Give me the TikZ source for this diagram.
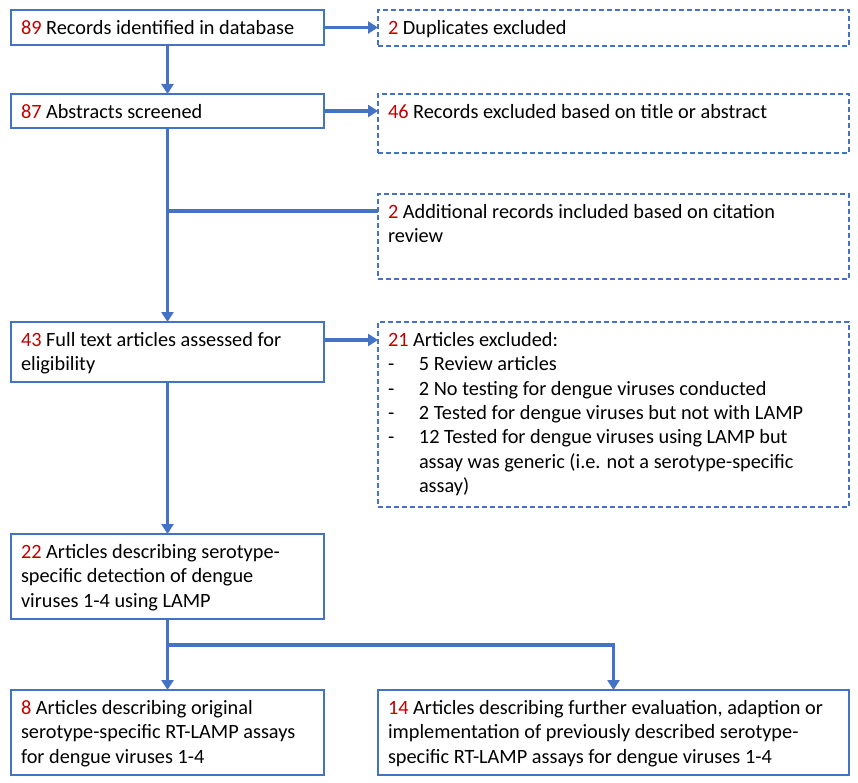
\documentclass[tikz,border=0pt]{standalone}
\usepackage{fontspec}
\setmainfont{Carlito}
\usetikzlibrary{arrows.meta,calc}
\definecolor{bl}{HTML}{4472C4}
\definecolor{rd}{HTML}{C00000}
\newcommand{\nm}[1]{\textcolor{rd}{#1}}
\newcommand{\bx}[3]{\parbox[c][#1pt][t]{#2pt}{\raggedright\rule{0pt}{24.3pt}#3}}
\newcommand{\dashitem}{\makebox[31pt][l]{-}}
\begin{document}
\begin{tikzpicture}[x=1pt,y=-1pt,
  every node/.style={font=\fontsize{20.3}{24.4}\selectfont},
  box/.style={draw=bl, line width=1.8pt, anchor=north west, inner xsep=10pt, inner ysep=0pt, outer sep=0pt},
  dbox/.style={box, line width=1.6pt, dash pattern=on 5pt off 3pt},
  arr/.style={draw=bl, line width=3.5pt, -{Triangle[length=10pt,width=12pt]}},
  ln/.style={draw=bl, line width=3.5pt}]
\useasboundingbox (0,0) rectangle (858,783);
\node[box]  (b1) at (11,10)  {\bx{35}{293}{\nm{89} Records identified in database}};
\node[dbox] (d1) at (378,10) {\bx{36}{451}{\nm{2} Duplicates excluded}};
\node[box]  (b2) at (11,94)  {\bx{34}{293}{\nm{87} Abstracts screened}};
\node[dbox] (e2) at (378,94) {\bx{59}{451}{\nm{46} Records excluded based on title or abstract}};
\node[dbox] (a)  at (378,194) {\bx{85}{451}{\nm{2} Additional records included based on citation\\review}};
\node[box]  (b3) at (11,322) {\bx{60}{293}{\nm{43} Full text articles assessed for\\eligibility}};
\node[dbox] (e3) at (378,322) {\bx{185}{451}{\nm{21} Articles excluded:\\
\dashitem 5 Review articles\\
\dashitem 2 No testing for dengue viruses conducted\\
\dashitem 2 Tested for dengue viruses but not with LAMP\\
\dashitem 12 Tested for dengue viruses using LAMP but\\
\hspace*{31pt}assay was generic (i.e. not a serotype-specific\\
\hspace*{31pt}assay)}};
\node[box]  (b4) at (11,534) {\bx{85}{293}{\nm{22} Articles describing serotype-\\specific detection of dengue\\viruses 1-4 using LAMP}};
\node[box]  (b5) at (11,690) {\bx{85}{293}{\nm{8} Articles describing original\\serotype-specific RT-LAMP assays\\for dengue viruses 1-4}};
\node[box]  (b6) at (378,690) {\bx{85}{451}{\nm{14} Articles describing further evaluation, adaption or\\implementation of previously described serotype-\\specific RT-LAMP assays for dengue viruses 1-4}};
\coordinate (ca) at ($(a.north west)+(0,17)$);
\coordinate (c3) at ($(b3.north east)+(0,18)$);
\coordinate (br) at ($(b4.south)+(0,26)$);
\draw[arr] (b1.east) -- (b1.east -| d1.west);
\draw[arr] (b1.south) -- (b2.north);
\draw[arr] (b2.east) -- (b2.east -| e2.west);
\draw[arr] (b2.south) -- (b3.north);
\draw[ln] (b2.south |- ca) -- (ca);
\draw[arr] (c3) -- (c3 -| e3.west);
\draw[arr] (b3.south) -- (b4.north);
\draw[arr] (b4.south) -- (b5.north);
\draw[arr] (br) -| (b6.north);
\end{tikzpicture}
\end{document}
